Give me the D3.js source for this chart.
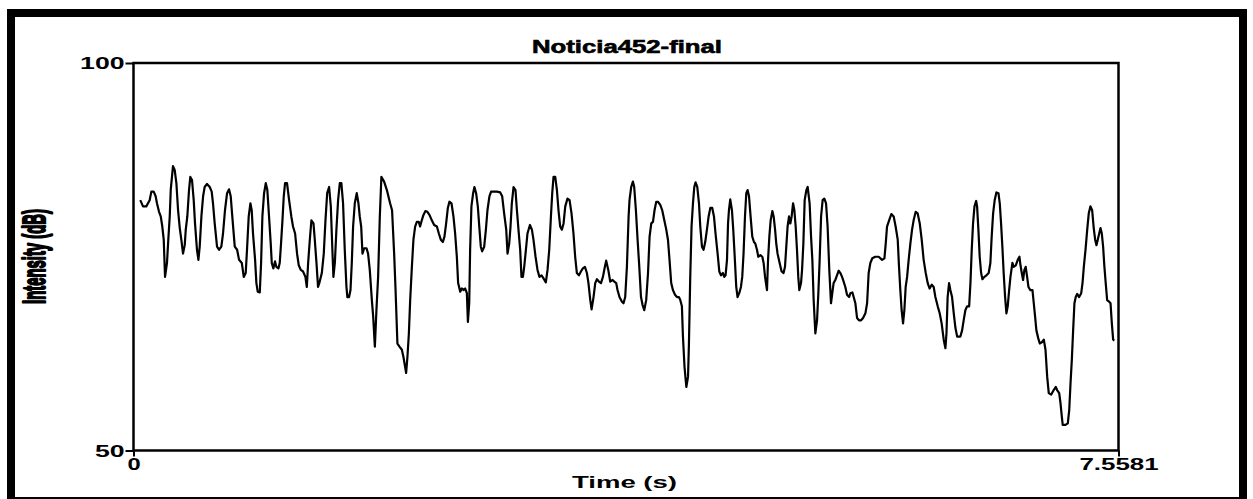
<!DOCTYPE html>
<html>
<head>
<meta charset="utf-8">
<script src="https://cdn.jsdelivr.net/npm/d3@7"></script>
<style>
  html, body { margin: 0; padding: 0; background: #fff; }
  svg { display: block; }
  text { font-family: "Liberation Sans", Arial, sans-serif; font-weight: bold; fill: #000; }
</style>
</head>
<body>
<div id="chart"></div>
<script>
const chartTitle = "Noticia452-final";
const xTitle = "Time (s)";
const yTitle = "Intensity (dB)";
const xDomain = [0, 7.5581];
const yDomain = [50, 100];
const xTickValues = [0, 7.5581];
const xTickLabels = ["0", "7.5581"];
const yTickValues = [50, 100];
const yTickLabels = ["50", "100"];

// intensity contour (s, dB)
const times = [
  0.052,0.073,0.098,0.124,0.137,0.155,0.170,0.180,0.196,0.209,
  0.221,0.232,0.242,0.257,0.267,0.278,0.286,0.303,0.316,0.329,
  0.342,0.355,0.367,0.380,0.393,0.401,0.413,0.426,0.436,0.449,
  0.462,0.472,0.487,0.498,0.508,0.521,0.534,0.546,0.564,0.585,
  0.600,0.610,0.623,0.641,0.656,0.674,0.687,0.702,0.718,0.733,
  0.746,0.758,0.777,0.795,0.810,0.831,0.846,0.861,0.871,0.884,
  0.897,0.907,0.917,0.933,0.943,0.953,0.969,0.979,0.989,1.002,
  1.015,1.027,1.040,1.053,1.061,1.073,1.086,1.096,1.112,1.122,
  1.132,1.143,1.153,1.163,1.178,1.194,1.211,1.224,1.240,1.255,
  1.268,1.284,1.301,1.319,1.330,1.340,1.353,1.365,1.381,1.391,
  1.404,1.416,1.429,1.445,1.460,1.473,1.486,1.501,1.514,1.526,
  1.534,1.545,1.557,1.570,1.583,1.595,1.608,1.621,1.634,1.641,
  1.654,1.665,1.675,1.685,1.698,1.713,1.726,1.736,1.747,1.757,
  1.770,1.788,1.800,1.813,1.829,1.839,1.852,1.864,1.877,1.890,
  1.902,
  1.923,1.944,1.969,1.984,2.000,2.010,2.025,2.041,2.059,2.071,
  2.092,2.102,2.113,2.123,2.136,2.148,2.161,2.174,2.189,2.199,
  2.212,2.225,2.240,2.255,2.271,2.289,2.307,2.328,2.343,2.358,
  2.374,2.386,2.399,2.412,2.424,2.440,2.455,2.468,2.481,2.491,
  2.507,2.520,2.532,2.545,2.558,2.566,2.576,2.583,2.593,2.606,
  2.616,2.629,2.642,2.655,2.665,2.675,2.691,2.704,2.716,2.731,
  2.744,2.762,2.788,2.814,2.829,2.844,2.860,2.870,2.883,2.893,
  2.903,2.916,2.931,2.942,2.954,2.967,2.977,2.988,2.998,3.011,
  3.023,3.042,3.057,3.069,3.085,3.100,3.115,3.131,3.146,3.164,
  3.177,3.190,3.203,3.213,3.223,3.236,3.249,3.261,3.274,3.287,
  3.300,3.313,3.330,3.346,3.361,3.376,3.389,3.402,3.418,3.433,
  3.448,3.464,3.479,3.491,3.505,3.515,3.530,3.543,3.556,3.571,
  3.587,3.602,3.617,3.627,3.643,3.658,3.676,3.689,3.704,3.714,
  3.729,3.748,3.760,3.773,3.786,3.799,
  3.806,3.819,3.832,3.842,3.855,3.868,3.881,3.894,3.906,3.919,
  3.934,3.948,3.960,3.973,3.986,3.998,4.011,4.024,4.042,4.057,
  4.073,4.088,4.101,4.113,4.126,4.139,4.155,4.170,4.185,4.196,
  4.208,4.216,4.228,4.242,4.255,4.262,4.272,4.282,4.293,4.303,
  4.313,4.326,4.339,4.349,4.362,4.374,4.387,4.400,4.413,4.426,
  4.441,4.454,4.466,4.482,4.495,4.508,4.523,4.533,4.543,4.554,
  4.562,4.569,4.579,4.592,4.602,4.612,4.625,4.635,4.648,4.661,
  4.671,4.681,4.692,4.702,4.712,4.723,4.735,4.748,4.761,4.771,
  4.784,4.794,4.810,4.825,4.835,4.846,4.853,4.861,4.869,4.879,
  4.889,4.902,4.912,4.923,4.932,4.942,4.958,4.973,4.988,4.999,
  5.009,5.019,5.030,5.040,5.050,5.061,5.071,5.081,5.091,5.101,
  5.109,5.122,5.130,5.140,5.150,5.163,5.173,5.188,5.199,5.209,
  5.219,5.232,5.245,5.255,5.265,5.276,5.288,5.301,5.314,5.326,
  5.339,5.352,5.362,5.372,5.385,5.398,5.411,5.424,5.437,5.449,
  5.462,5.475,5.491,5.501,5.516,5.526,5.539,5.552,5.567,5.583,
  5.598,
  5.616,5.629,5.641,5.654,5.669,5.692,5.718,5.744,5.762,5.772,
  5.782,5.798,5.815,5.833,5.848,5.864,5.874,5.884,5.894,5.905,
  5.915,5.925,5.936,5.948,5.961,5.974,5.986,6.002,6.017,6.033,
  6.048,6.063,6.079,6.094,6.109,6.125,6.140,6.153,6.171,6.186,
  6.201,6.217,6.230,6.238,6.247,6.258,6.268,6.281,6.294,6.307,
  6.320,6.345,6.358,6.370,6.383,6.396,6.412,6.422,6.432,6.442,
  6.453,6.466,6.473,6.483,6.493,6.504,6.514,6.529,6.545,6.562,
  6.575,6.585,6.596,6.608,6.621,6.637,6.647,6.657,6.667,6.677,
  6.688,6.698,6.708,6.719,6.729,6.744,6.754,6.770,6.785,6.798,
  6.806,6.816,6.826,6.836,6.846,6.857,6.867,6.882,6.898,6.908,
  6.918,6.928,6.942,6.954,6.972,6.985,6.998,7.011,7.023,7.041,
  7.061,7.077,7.087,7.103,7.113,7.123,7.130,7.151,7.169,7.180,
  7.190,7.200,7.210,7.220,7.230,7.241,7.256,7.272,7.282,7.292,
  7.305,7.318,7.330,7.343,7.356,7.368,7.379,7.389,7.399,7.410,
  7.420,7.430,7.440,7.450,7.460,7.471,7.486,7.497,7.507,7.517,
  7.527
];
const intensity = [
  82.3,81.5,81.5,82.3,83.4,83.4,82.8,81.9,80.8,80.2,
  78.9,77.2,72.4,74.2,77.2,80.2,83.7,86.7,86.2,84.5,
  81.0,78.7,77.2,75.4,76.5,78.5,80.2,83.6,85.3,84.9,
  82.3,79.3,75.9,74.6,76.3,80.2,82.8,84.0,84.4,84.0,
  83.4,81.9,79.3,76.3,75.9,76.3,78.0,81.0,83.2,83.7,
  82.8,80.2,76.3,75.9,74.6,74.2,72.4,72.9,75.9,80.2,
  81.9,81.0,78.0,74.6,71.6,70.5,70.4,74.2,80.2,83.2,
  84.5,83.6,80.2,76.7,74.2,73.5,74.4,73.7,73.5,74.2,
  76.7,79.7,82.8,84.5,84.5,82.3,80.2,78.9,78.0,75.4,
  73.9,73.3,73.1,72.4,71.1,74.2,77.2,79.7,79.3,77.2,
  74.2,71.1,71.8,72.9,75.4,79.7,83.2,84.0,81.5,75.9,
  72.4,74.2,78.5,82.3,84.5,84.5,81.9,75.9,71.1,69.8,
  69.8,70.7,74.2,78.9,81.9,83.2,81.9,80.2,78.9,75.4,
  76.1,76.1,75.4,73.3,69.4,67.3,63.4,68.1,72.4,80.2,
  85.3,
  84.7,83.6,81.9,81.0,75.4,71.1,63.8,63.4,63.0,62.1,
  60.0,62.1,65.1,69.4,73.7,77.2,78.9,79.5,79.5,78.9,
  79.7,80.4,80.9,80.8,80.4,79.7,79.1,78.9,78.0,77.2,
  76.9,77.6,79.3,81.3,82.1,81.9,80.2,78.0,75.0,71.6,
  70.5,70.9,70.7,70.9,70.3,66.6,69.0,75.9,81.5,83.2,
  84.0,83.2,81.5,78.5,76.3,75.7,76.3,78.5,81.0,82.8,
  83.4,83.4,83.4,83.3,82.8,80.6,78.5,75.4,76.7,78.9,
  81.9,84.0,83.6,81.0,78.5,75.9,72.4,72.4,73.7,75.9,
  78.0,79.1,78.5,77.2,75.0,73.3,72.4,72.6,72.2,71.7,
  73.3,75.9,80.2,83.2,85.3,85.3,83.6,81.0,78.9,78.5,
  79.3,81.5,82.5,82.3,80.6,78.0,75.0,72.9,72.6,73.1,
  73.5,73.7,72.9,71.6,69.4,68.2,69.8,71.6,72.1,71.8,
  71.6,72.4,73.7,74.5,73.3,71.8,72.0,71.8,71.6,70.7,
  69.8,69.2,69.0,69.8,73.7,80.2,
  82.3,84.0,84.7,84.0,81.0,77.2,73.7,69.8,68.8,68.1,
  69.4,72.9,77.6,79.3,79.5,81.0,82.1,82.1,81.7,81.0,
  79.7,78.5,77.2,74.6,71.6,70.7,70.1,69.8,69.8,69.4,
  68.6,64.7,60.8,58.2,59.5,63.8,72.4,78.9,81.9,84.0,
  84.6,84.0,81.9,78.9,76.3,75.9,76.9,78.5,80.2,81.3,
  81.3,80.2,78.0,75.4,73.1,72.6,72.9,72.4,72.6,74.6,
  79.3,81.0,82.4,81.0,78.5,75.4,71.1,69.8,70.3,71.1,
  72.4,75.4,80.2,83.2,83.6,82.8,80.2,77.6,76.9,76.7,
  75.9,75.0,75.2,75.0,74.2,72.4,71.6,70.7,74.6,77.6,
  79.7,80.9,80.2,78.5,76.7,75.4,74.2,73.1,72.9,73.7,
  76.3,78.9,80.2,79.3,80.2,81.9,81.0,78.9,75.9,72.4,
  70.7,71.6,73.3,76.7,82.3,83.6,84.0,81.9,77.6,74.6,
  69.4,65.1,66.8,70.3,74.6,80.2,82.3,82.5,81.9,78.9,
  73.3,69.0,70.3,71.6,72.0,72.6,73.2,72.9,72.4,71.8,
  71.1,70.1,69.8,70.3,70.4,69.8,69.0,67.1,66.8,66.8,
  67.1,
  67.7,69.0,72.9,74.2,74.8,75.0,75.0,74.6,74.8,76.7,
  78.9,79.7,80.5,80.2,78.9,77.2,73.7,70.7,68.1,66.4,
  68.1,71.1,72.4,74.6,76.7,78.5,79.7,80.8,80.6,79.3,
  77.2,74.6,72.9,71.6,70.9,71.4,71.1,69.8,68.6,67.7,
  66.4,64.3,63.2,65.1,69.8,71.6,70.7,69.8,67.7,65.8,
  64.7,64.7,65.5,66.8,68.1,68.6,68.6,71.6,75.9,79.3,
  81.5,82.2,81.5,78.5,75.0,72.9,72.1,72.4,72.6,72.9,
  74.2,77.6,80.6,82.3,83.3,83.2,81.9,79.3,76.3,72.9,
  69.8,67.7,68.6,70.7,72.4,74.2,73.7,73.9,74.6,75.0,
  73.9,72.9,72.0,73.3,73.7,72.4,71.1,70.7,70.7,69.0,
  67.3,65.5,64.5,63.8,64.0,64.3,63.0,59.5,57.4,57.2,
  57.8,58.2,57.8,57.4,56.1,54.4,53.3,53.3,53.5,55.2,
  58.7,61.7,65.5,69.0,69.8,70.2,69.8,70.3,71.6,73.7,
  75.9,78.5,80.6,81.5,81.0,78.7,77.2,76.5,77.2,78.0,
  78.7,78.0,76.3,73.7,71.6,69.4,69.2,69.0,66.4,64.3,
  64.2
];

if (times.length !== intensity.length) console.warn("length mismatch", times.length, intensity.length);

const W = 1253, H = 499;
const plot = { left: 133.5, right: 1118.5, top: 63, bottom: 450.5 };

const svg = d3.select("#chart")
  .append("svg")
  .attr("width", W)
  .attr("height", H);

svg.append("rect").attr("width", W).attr("height", H).attr("fill", "#fff");

// outer black frame (thick top/left/right, thin bottom)
const frame = svg.append("g").attr("fill", "#000").attr("shape-rendering", "crispEdges");
frame.append("rect").attr("x", 7).attr("y", 9).attr("width", 1240).attr("height", 8);
frame.append("rect").attr("x", 7).attr("y", 9).attr("width", 8).attr("height", 489);
frame.append("rect").attr("x", 1239).attr("y", 9).attr("width", 8).attr("height", 489);
frame.append("rect").attr("x", 7).attr("y", 497).attr("width", 1240).attr("height", 1.5);

const x = d3.scaleLinear().domain(xDomain).range([plot.left, plot.right]);
const y = d3.scaleLinear().domain(yDomain).range([plot.bottom, plot.top]);

const n = Math.min(times.length, intensity.length);
const pts = d3.range(n).map(i => [times[i], intensity[i]]);

const line = d3.line()
  .x(d => x(d[0]))
  .y(d => y(d[1]));

svg.append("path")
  .datum(pts)
  .attr("d", line)
  .attr("fill", "none")
  .attr("stroke", "#000")
  .attr("stroke-width", 2.2)
  .attr("stroke-linejoin", "round");

// plot box
svg.append("rect")
  .attr("x", plot.left)
  .attr("y", plot.top)
  .attr("width", plot.right - plot.left)
  .attr("height", plot.bottom - plot.top)
  .attr("fill", "none")
  .attr("stroke", "#000")
  .attr("stroke-width", 2.5);

// y axis
const gy = svg.append("g")
  .attr("transform", `translate(${plot.left},0)`)
  .call(d3.axisLeft(y)
    .tickValues(yTickValues)
    .tickFormat((d, i) => yTickLabels[i])
    .tickSize(8)
    .tickPadding(1));
gy.select(".domain").remove();
gy.selectAll(".tick line").attr("stroke", "#000").attr("stroke-width", 2);
gy.selectAll(".tick text")
  .attr("font-size", 16)
  .attr("font-family", null)
  .attr("fill", "#000")
  .attr("dy", "0.36em")
  .attr("textLength", function () { return this.textContent.length * 14.8; })
  .attr("lengthAdjust", "spacingAndGlyphs");

// x axis
const gx = svg.append("g")
  .attr("transform", `translate(0,${plot.bottom})`)
  .call(d3.axisBottom(x)
    .tickValues(xTickValues)
    .tickFormat((d, i) => xTickLabels[i])
    .tickSize(6)
    .tickPadding(1));
gx.select(".domain").remove();
gx.selectAll(".tick line").attr("stroke", "#000").attr("stroke-width", 2);
gx.selectAll(".tick text")
  .attr("font-size", 17)
  .attr("font-family", null)
  .attr("fill", "#000")
  .attr("textLength", function () { return this.textContent.length * 13.2; })
  .attr("lengthAdjust", "spacingAndGlyphs");

// titles
svg.append("text")
  .attr("x", 627)
  .attr("y", 53)
  .attr("text-anchor", "middle")
  .attr("font-size", 18)
  .attr("font-weight", "normal")
  .attr("stroke", "#000")
  .attr("stroke-width", 0.6)
  .attr("textLength", 190)
  .attr("lengthAdjust", "spacingAndGlyphs")
  .text(chartTitle);

svg.append("text")
  .attr("x", 624.5)
  .attr("y", 487.5)
  .attr("text-anchor", "middle")
  .attr("font-size", 16)
  .attr("textLength", 105)
  .attr("lengthAdjust", "spacingAndGlyphs")
  .text(xTitle);

// heavy, condensed y title
svg.append("text")
  .attr("transform", "translate(45,256.5) rotate(-90)")
  .attr("text-anchor", "middle")
  .attr("font-size", 31)
  .attr("stroke", "#000")
  .attr("stroke-width", 2.2)
  .attr("stroke-linejoin", "round")
  .attr("textLength", 95)
  .attr("lengthAdjust", "spacingAndGlyphs")
  .text(yTitle);
</script>
</body>
</html>
